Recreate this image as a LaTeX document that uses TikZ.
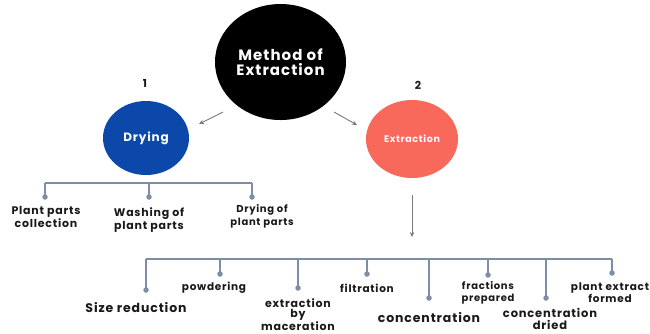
\documentclass[tikz,border=0pt]{standalone}
\usepackage{fontspec}
\setmainfont{Poppins}[LetterSpace=7]
\usetikzlibrary{shapes.geometric,arrows.meta}
\definecolor{treec}{HTML}{7D8DA6}
\definecolor{arrc}{HTML}{7A7A7A}
\definecolor{dryc}{HTML}{0B48AA}
\definecolor{extc}{HTML}{F8695C}
\begin{document}
\begin{tikzpicture}[x=1pt,y=-1pt,
  lbl/.style={font=\bfseries\fontsize{#1}{13}\selectfont, align=center, inner sep=0pt, text=black!90},
  lbl/.default=11,
  tree/.style={draw=treec, line width=1.4pt},
  dotc/.style={circle, fill=treec, inner sep=0pt, minimum size=5.5pt},
  arr/.style={draw=arrc, line width=0.9pt, -{Stealth[length=5pt,width=4.5pt]}},
  blob/.style={ellipse, inner sep=0pt, text=white, font=\bfseries}]
\useasboundingbox[fill=white] (0,0) rectangle (650,333);

% circles
\node[blob, fill=black, minimum width=131pt, minimum height=116pt, align=center,
  font=\bfseries\fontsize{15}{14.5}\selectfont] (main) at (280.5,62) {Method of\\Extraction};
\node[blob, fill=dryc, minimum width=86pt, minimum height=74pt,
  font=\bfseries\fontsize{12}{14}\selectfont] (dry) at (146,138) {Drying};
\node[blob, fill=extc, minimum width=92pt, minimum height=78pt,
  font=\bfseries\fontsize{9.5}{11}\selectfont] (ext) at (412,139) {Extraction};

\node[lbl=11] (n1) at (145,83) {1};
\node[lbl=11] (n2) at (418,85) {2};

% arrows
\coordinate (a1s) at (223,112); \coordinate (a1e) at (199,124);
\coordinate (a2s) at (334,112); \coordinate (a2e) at (357,125);
\coordinate (a3s) at (412,195); \coordinate (a3e) at (412,237);
\draw[arr] (a1s) -- (a1e);
\draw[arr] (a2s) -- (a2e);
\draw[arr] (a3s) -- (a3e);

% drying tree
\coordinate (db1) at (45,183); \coordinate (db2) at (149,183); \coordinate (db3) at (252,183);
\node[dotc] (dd1) at (45,197) {};
\node[dotc] (dd2) at (149,197) {};
\node[dotc] (dd3) at (252,197) {};
\draw[tree] (db1) -- (db3);
\draw[tree] (db1) -- (dd1.center);
\draw[tree] (db2) -- (dd2.center);
\draw[tree] (db3) -- (dd3.center);
\node[lbl=11] (pc) at (46,217) {Plant parts\\collection};
\node[lbl=11] (wp) at (149,220) {Washing of\\plant parts};
\node[lbl=10] (dp) at (262,216) {Drying of\\plant parts};

% extraction tree
\coordinate (eb1) at (146,259); \coordinate (eb2) at (220,259); \coordinate (eb3) at (298,259);
\coordinate (eb4) at (367,259); \coordinate (eb5) at (429,259); \coordinate (eb6) at (488,259);
\coordinate (eb7) at (546,259); \coordinate (eb8) at (612,259);
\node[dotc] (ed1) at (146,290) {};
\node[dotc] (ed2) at (220,274) {};
\node[dotc] (ed3) at (298,288) {};
\node[dotc] (ed4) at (367,274) {};
\node[dotc] (ed5) at (429,298) {};
\node[dotc] (ed6) at (488,275) {};
\node[dotc] (ed7) at (546,298) {};
\node[dotc] (ed8) at (612,273) {};
\draw[tree] (eb1) -- (eb8);
\foreach \i in {1,...,8} { \draw[tree] (eb\i) -- (ed\i.center); }

\node[lbl=12.5] (sr) at (136,308) {Size reduction};
\node[lbl=10.5] (pw) at (214,288) {powdering};
\node[lbl=11, font=\bfseries\fontsize{11}{10.5}\selectfont] (em) at (298,314.5) {extraction\\by\\maceration};
\node[lbl=10.5] (fi) at (367,288) {filtration};
\node[lbl=12.5] (co) at (429,318) {concentration};
\node[lbl=10, font=\bfseries\fontsize{10}{12}\selectfont] (fp) at (488,293) {fractions\\prepared};
\node[lbl=11.5, font=\bfseries\fontsize{11.5}{12}\selectfont] (cd) at (550,319) {concentration\\dried};
\node[lbl=10.5, font=\bfseries\fontsize{10.5}{12}\selectfont] (pe) at (610,293) {plant extract\\formed};
\end{tikzpicture}
\end{document}
